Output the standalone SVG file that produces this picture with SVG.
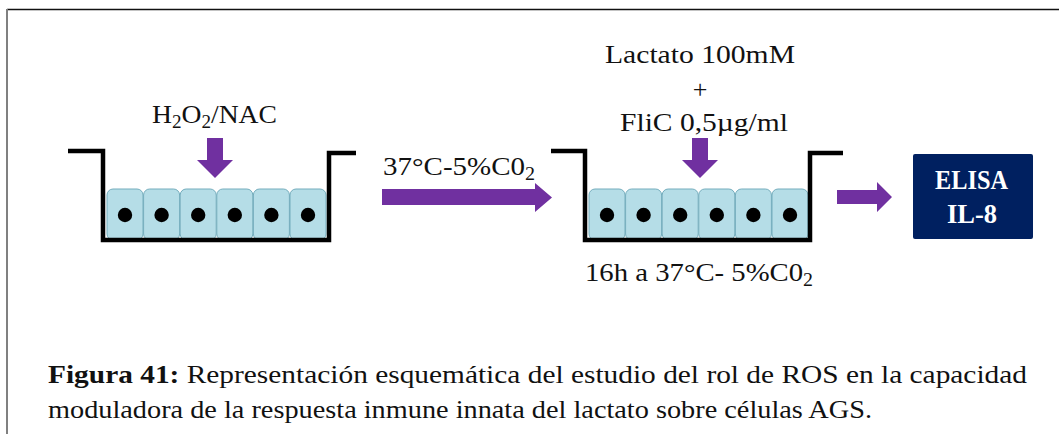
<svg xmlns="http://www.w3.org/2000/svg" width="1059" height="434" viewBox="0 0 1059 434">
  <style>
    .lbl { font-family: "Liberation Serif", "DejaVu Serif", serif; font-size: 26px; fill: #111; }
    .cap { font-family: "Liberation Serif", "DejaVu Serif", serif; font-size: 26px; fill: #111; }
    .well { fill: none; stroke: #000; stroke-width: 4.5; stroke-linejoin: miter; }
    .cell { fill: #b5dde7; stroke: #74adbd; stroke-width: 1; }
    .nuc { fill: #000; }
    .arrow { fill: #7030a0; }
    .box { fill: #002060; }
    .boxtxt { font-family: "Liberation Serif", "DejaVu Serif", serif; font-size: 28px; font-weight: bold; fill: #fff; }
  </style>
  <defs>
    <g id="cellrow">
      <rect class="cell" x="0" y="0" width="36" height="51" rx="6"/>
      <rect class="cell" x="36.6" y="0" width="36" height="51" rx="6"/>
      <rect class="cell" x="73.2" y="0" width="36" height="51" rx="6"/>
      <rect class="cell" x="109.8" y="0" width="36" height="51" rx="6"/>
      <rect class="cell" x="146.4" y="0" width="36" height="51" rx="6"/>
      <rect class="cell" x="183" y="0" width="36" height="51" rx="6"/>
      <circle class="nuc" cx="18" cy="26" r="7.2"/>
      <circle class="nuc" cx="54.6" cy="26" r="7.2"/>
      <circle class="nuc" cx="91.2" cy="26" r="7.2"/>
      <circle class="nuc" cx="127.8" cy="26" r="7.2"/>
      <circle class="nuc" cx="164.4" cy="26" r="7.2"/>
      <circle class="nuc" cx="201" cy="26" r="7.2"/>
    </g>
    <path id="downarrow" d="M -8 0 H 8 V 22 H 18 L 0 40 L -18 22 H -8 Z"/>
  </defs>

  <!-- page frame -->
  <line x1="7" y1="9.5" x2="1059" y2="9.5" stroke="#111" stroke-width="1.5"/>
  <line x1="7" y1="9" x2="7" y2="434" stroke="#808080" stroke-width="2"/>

  <!-- first well: H2O2 / NAC treatment -->
  <g id="well1">
    <use href="#cellrow" x="107" y="189"/>
    <path class="well" d="M 68 151 H 103 V 240 H 329 V 153 H 356"/>
    <use href="#downarrow" class="arrow" x="215" y="138"/>
    <text class="lbl" x="152" y="123" textLength="125" lengthAdjust="spacingAndGlyphs">H<tspan font-size="18" dy="5">2</tspan><tspan dy="-5">O</tspan><tspan font-size="18" dy="5">2</tspan><tspan dy="-5">/NAC</tspan></text>
  </g>

  <!-- second well: lactate + FliC stimulation -->
  <g id="well2">
    <use href="#cellrow" x="589" y="189"/>
    <path class="well" d="M 551 151 H 585 V 240 H 810 V 153 H 843"/>
    <use href="#downarrow" class="arrow" x="700" y="138"/>
    <text class="lbl" x="605" y="63" textLength="190" lengthAdjust="spacingAndGlyphs">Lactato 100mM</text>
    <text class="lbl" x="700" y="98" text-anchor="middle">+</text>
    <text class="lbl" x="620" y="131" textLength="168" lengthAdjust="spacingAndGlyphs">FliC 0,5µg/ml</text>
    <text class="lbl" x="585" y="281" textLength="228" lengthAdjust="spacingAndGlyphs">16h a 37°C- 5%C0<tspan font-size="18" dy="5">2</tspan></text>
  </g>

  <!-- readout -->
  <g id="elisa">
    <rect class="box" x="913" y="154" width="120" height="85" rx="2"/>
    <text class="boxtxt" x="935" y="189" textLength="73" lengthAdjust="spacingAndGlyphs">ELISA</text>
    <text class="boxtxt" x="947" y="223" textLength="50" lengthAdjust="spacingAndGlyphs">IL-8</text>
  </g>

  <!-- connectors -->
  <g id="connectors">
    <path class="arrow" d="M 382 189 H 535 V 183 L 552 197.5 L 535 212 V 205 H 382 Z"/>
    <text class="lbl" x="383" y="175" textLength="152" lengthAdjust="spacingAndGlyphs">37°C-5%C0<tspan font-size="18" dy="5">2</tspan></text>
    <path class="arrow" d="M 837 190 H 877 V 182 L 892 197 L 877 212 V 204 H 837 Z"/>
  </g>

  <!-- caption -->
  <text class="cap" x="48" y="383" textLength="979" lengthAdjust="spacingAndGlyphs"><tspan font-weight="bold">Figura 41:</tspan> Representación esquemática del estudio del rol de ROS en la capacidad</text>
  <text class="cap" x="48" y="418" textLength="824" lengthAdjust="spacingAndGlyphs">moduladora de la respuesta inmune innata del lactato sobre células AGS.</text>
</svg>
